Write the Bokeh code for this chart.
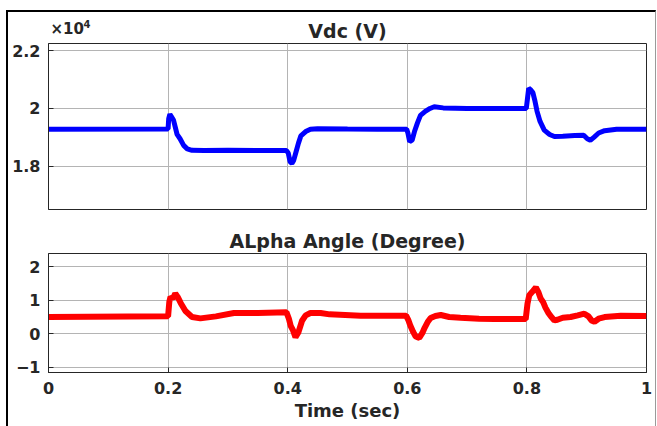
from bokeh.plotting import figure
from bokeh.layouts import column
from bokeh.models import Range1d, FixedTicker, CustomJSTickFormatter, Label
from bokeh.embed import file_html
from bokeh.resources import INLINE

# ---- data ----
t_vdc = [0.0, 0.2, 0.201, 0.203, 0.206, 0.209, 0.212, 0.215, 0.22, 0.226, 0.232, 0.24,
         0.26, 0.3, 0.35, 0.398, 0.401, 0.404, 0.407, 0.41, 0.414, 0.418, 0.422, 0.43,
         0.438, 0.45, 0.5, 0.55, 0.599, 0.601, 0.604, 0.608, 0.612, 0.617, 0.622, 0.63,
         0.638, 0.645, 0.66, 0.7, 0.75, 0.799, 0.801, 0.803, 0.806, 0.81, 0.813, 0.817,
         0.822, 0.829, 0.838, 0.846, 0.86, 0.88, 0.895, 0.901, 0.906, 0.912, 0.92, 0.93,
         0.95, 1.0]
vdc = [19280, 19290, 19650, 19800, 19700, 19600, 19350, 19100, 18950, 18720, 18600, 18550,
       18545, 18550, 18545, 18540, 18450, 18150, 18100, 18200, 18500, 18800, 19050, 19200,
       19280, 19300, 19285, 19280, 19280, 19150, 18850, 18900, 19200, 19500, 19760, 19900,
       20000, 20060, 20020, 20000, 20000, 20000, 20350, 20700, 20650, 20550, 20300, 19900,
       19550, 19250, 19100, 19030, 19040, 19060, 19070, 18950, 18900, 19000, 19150, 19230,
       19280, 19280]

t_alpha = [0.0, 0.2, 0.202, 0.204, 0.208, 0.212, 0.216, 0.221, 0.229, 0.24, 0.254, 0.28,
           0.31, 0.35, 0.398, 0.402, 0.405, 0.409, 0.413, 0.418, 0.424, 0.43, 0.438, 0.455,
           0.47, 0.522, 0.598, 0.602, 0.605, 0.61, 0.614, 0.62, 0.625, 0.629, 0.634, 0.639,
           0.647, 0.656, 0.67, 0.689, 0.72, 0.745, 0.798, 0.801, 0.804, 0.809, 0.815, 0.819,
           0.823, 0.827, 0.831, 0.836, 0.84, 0.846, 0.851, 0.86, 0.873, 0.885, 0.896, 0.903,
           0.908, 0.913, 0.92, 0.93, 0.957, 1.0]
alpha = [0.50, 0.52, 0.95, 1.10, 1.05, 1.20, 1.10, 0.92, 0.68, 0.50, 0.46, 0.52,
         0.62, 0.62, 0.64, 0.45, 0.24, 0.10, -0.10, 0.05, 0.39, 0.55, 0.62, 0.62,
         0.58, 0.54, 0.54, 0.40, 0.25, 0.05, -0.08, -0.12, 0.02, 0.18, 0.35, 0.47,
         0.53, 0.56, 0.50, 0.48, 0.45, 0.44, 0.44, 0.90, 1.15, 1.25, 1.38, 1.25,
         1.05, 0.95, 0.78, 0.62, 0.52, 0.40, 0.42, 0.48, 0.50, 0.55, 0.60, 0.52,
         0.40, 0.36, 0.45, 0.50, 0.54, 0.53]

x_ticks = [0, 0.2, 0.4, 0.6, 0.8, 1]
vdc_ticks = [18000, 20000, 22000]
alpha_ticks = [-1, 0, 1, 2]

FONT = "DejaVu Sans"
TXT = "#262626"
GRID = "#b4b4b4"


def tick_style(ax):
    ax.major_tick_in = 5
    ax.major_tick_out = 0
    ax.minor_tick_in = 0
    ax.minor_tick_out = 0
    ax.axis_line_color = TXT
    ax.major_tick_line_color = TXT
    ax.major_label_text_font = FONT
    ax.major_label_text_font_style = "bold"
    ax.major_label_text_font_size = "16px"
    ax.major_label_text_color = TXT


def make_fig(yrange, yticks, title, height, top, bottom):
    p = figure(width=647, height=height, x_range=Range1d(0, 1), y_range=yrange,
               output_backend="svg", toolbar_location=None,
               title_location="above" if title else None,
               min_border_left=40, min_border_right=9,
               min_border_top=top, min_border_bottom=bottom)
    if title:
        p.title.text = title
        p.title.align = "center"
        p.title.text_font = FONT
        p.title.text_font_style = "bold"
        p.title.text_font_size = "19px"
        p.title.text_color = TXT
        p.title.standoff = 3
    p.outline_line_color = TXT
    xb = p.below[0]
    yl = p.left[0]
    xb.ticker = FixedTicker(ticks=x_ticks)
    yl.ticker = FixedTicker(ticks=yticks)
    tick_style(xb)
    tick_style(yl)
    yl.major_label_standoff = 8
    xb.major_label_standoff = 9
    p.xgrid.ticker = FixedTicker(ticks=x_ticks)
    p.ygrid.ticker = FixedTicker(ticks=yticks)
    p.grid.grid_line_color = GRID
    p.grid.grid_line_width = 1
    return p, xb, yl


# header row: exponent marker and title of the upper panel
head = figure(width=647, height=31, output_backend="svg", toolbar_location=None,
              title_location=None,
              min_border=0, min_border_left=0, min_border_right=0,
              min_border_top=0, min_border_bottom=0,
              x_axis_type=None, y_axis_type=None)
head.grid.visible = False
head.outline_line_color = None
head.add_layout(Label(x=42, y=16, x_units="canvas", y_units="canvas", text="\u00d710",
                      text_font=FONT, text_font_style="bold", text_font_size="15px",
                      text_color=TXT, text_baseline="alphabetic"))
head.add_layout(Label(x=75, y=11, x_units="canvas", y_units="canvas", text="4",
                      text_font=FONT, text_font_style="bold", text_font_size="10px",
                      text_color=TXT, text_baseline="alphabetic"))
head.add_layout(Label(x=339, y=18, x_units="canvas", y_units="canvas", text="Vdc (V)",
                      text_font=FONT, text_font_style="bold", text_font_size="19px",
                      text_color=TXT, text_baseline="alphabetic", text_align="center"))

p1, xb1, yl1 = make_fig(Range1d(16500, 22250), vdc_ticks, None, 172, 0, 6)
xb1.visible = False
yl1.formatter = CustomJSTickFormatter(code="return (tick/10000).toString();")
p1.line(t_vdc, vdc, line_color="#0000ff", line_width=5)

p2, xb2, yl2 = make_fig(Range1d(-1.15, 2.39), alpha_ticks, "ALpha Angle (Degree)", 211, 38, 54)
xb2.axis_label = "Time (sec)"
xb2.axis_label_text_font = FONT
xb2.axis_label_text_font_style = "bold"
xb2.axis_label_text_font_size = "18px"
xb2.axis_label_text_color = TXT
xb2.axis_label_standoff = 3
p2.line(t_alpha, alpha, line_color="#ff0000", line_width=6)

layout = column(head, p1, p2, styles={"margin-left": "6px", "margin-top": "10px",
                                      "border-left": "2px solid black",
                                      "border-top": "2px solid black",
                                      "border-right": "1px solid #9a9a9a"})

open("out.html", "w").write(file_html(layout, INLINE))
